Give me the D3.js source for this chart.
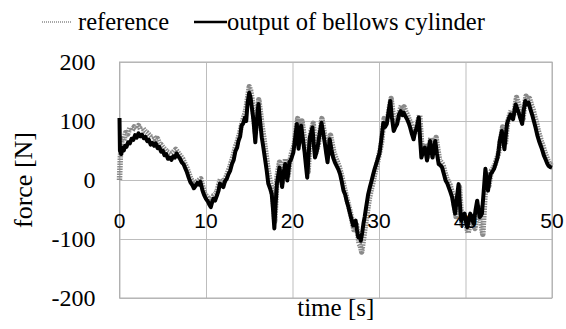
<!DOCTYPE html>
<html>
<head>
<meta charset="utf-8">
<script src="https://cdn.jsdelivr.net/npm/d3@7"></script>
<style>
  body { margin: 0; background: #fff; }
  svg { display: block; }
  .serif { font-family: "Liberation Serif"; }
  .sans { font-family: "Liberation Sans"; }
</style>
</head>
<body>
<svg id="chart" width="566" height="329"></svg>
<script>
// Data: [time s, force N].
const outputSeries = [
  [0,105],[0.05,50],[0.2,44],[0.35,55],[0.5,50],[0.65,58],[0.8,56],[1.0,64],[1.2,62],[1.4,70],
  [1.6,68],[1.8,76],[2.0,72],[2.2,79],[2.4,74],[2.6,77],[2.8,71],[3.0,73],[3.2,66],[3.4,68],
  [3.6,60],[3.8,63],[4.0,58],[4.2,62],[4.4,54],[4.6,56],[4.8,48],[5.0,50],[5.2,42],[5.4,44],
  [5.6,36],[5.8,38],[6.0,34],[6.2,40],[6.4,38],[6.6,45],[6.8,40],[7.0,36],[7.2,30],[7.4,27],
  [7.6,20],[7.8,13],[8.0,4],[8.2,-4],[8.4,-8],[8.6,-14],[8.8,-10],[9.0,-5],[9.2,-8],[9.35,-3],
  [9.6,-18],[9.8,-26],[10.0,-32],[10.2,-36],[10.4,-42],[10.55,-46],[10.7,-38],[10.85,-32],[11.05,-35],[11.25,-27],
  [11.45,-18],[11.6,-6],[11.8,-9],[12.0,-12],[12.2,-2],[12.4,2],[12.6,10],[12.8,16],[13.0,27],[13.2,34],
  [13.4,49],[13.6,55],[13.75,66],[13.95,74],[14.1,92],[14.3,96],[14.5,106],[14.65,100],[14.8,130],[15.0,148],
  [15.15,140],[15.3,123],[15.5,100],[15.7,64],[15.85,95],[16.06,129],[16.25,100],[16.45,72],[16.6,58],[16.8,38],
  [17.0,18],[17.2,-6],[17.4,-14],[17.6,-24],[17.75,-50],[17.9,-82],[18.05,-40],[18.2,-6],[18.35,8],[18.5,21],
  [18.65,5],[18.8,-12],[18.95,10],[19.15,27],[19.3,12],[19.4,-1],[19.55,18],[19.65,30],[19.8,34],[19.9,38],
  [20.1,47],[20.3,70],[20.5,95],[20.6,75],[20.7,53],[20.85,72],[21.0,92],[21.2,70],[21.4,47],[21.55,25],
  [21.7,4],[21.85,40],[22.0,72],[22.15,80],[22.3,89],[22.45,62],[22.6,38],[22.75,46],[22.9,55],[23.1,75],
  [23.35,97],[23.55,80],[23.75,61],[23.9,45],[24.05,30],[24.2,52],[24.3,69],[24.5,52],[24.7,38],[24.9,30],
  [25.1,24],[25.3,18],[25.5,10],[25.7,-3],[25.9,-18],[26.1,-25],[26.25,-35],[26.45,-45],[26.65,-57],[26.85,-68],
  [27.0,-77],[27.15,-72],[27.3,-69],[27.45,-84],[27.6,-97],[27.75,-95],[27.9,-103],[28.05,-90],[28.2,-74],[28.35,-62],
  [28.45,-52],[28.6,-38],[28.75,-24],[28.95,-12],[29.15,-1],[29.3,8],[29.5,19],[29.7,28],[29.9,38],[30.05,45],
  [30.15,55],[30.35,78],[30.5,97],[30.7,90],[30.9,95],[31.1,115],[31.3,134],[31.5,105],[31.7,83],[31.9,90],
  [32.1,95],[32.3,110],[32.5,117],[32.7,110],[32.85,114],[33.05,108],[33.25,103],[33.45,96],[33.6,89],[33.8,78],
  [34.0,69],[34.15,80],[34.3,86],[34.45,95],[34.6,106],[34.75,70],[34.9,38],[35.1,48],[35.3,55],[35.45,42],
  [35.55,33],[35.75,52],[35.9,66],[36.05,50],[36.2,38],[36.35,55],[36.5,66],[36.7,45],[36.9,27],[37.1,25],
  [37.3,21],[37.5,10],[37.7,-1],[37.9,-6],[38.05,-12],[38.25,-20],[38.45,-29],[38.6,-42],[38.8,-57],[39.0,-30],
  [39.2,-7],[39.35,-40],[39.5,-69],[39.7,-62],[39.9,-57],[40.05,-70],[40.2,-80],[40.4,-68],[40.55,-57],[40.75,-66],
  [40.95,-74],[41.15,-52],[41.35,-35],[41.5,-50],[41.65,-63],[41.8,-60],[41.9,-57],[42.1,-20],[42.3,19],[42.45,0],
  [42.6,-18],[42.75,-2],[42.9,10],[43.1,14],[43.3,19],[43.5,28],[43.7,38],[43.85,52],[43.95,66],[44.1,76],
  [44.2,83],[44.35,68],[44.5,52],[44.65,75],[44.8,95],[45.0,104],[45.2,111],[45.35,106],[45.5,103],[45.65,116],
  [45.8,128],[46.0,120],[46.15,114],[46.35,104],[46.55,95],[46.7,115],[46.9,134],[47.1,128],[47.3,131],[47.5,120],
  [47.7,111],[47.9,100],[48.1,89],[48.3,76],[48.5,66],[48.7,58],[48.85,52],[49.05,42],[49.25,35],[49.45,28],
  [49.6,24],[49.8,22],[50,21]
];

const referenceSeries = [
  [0,0],[0.1,40],[0.3,70],[0.5,66],[0.7,80],[0.95,78],[1.2,88],[1.45,84],[1.7,90],[1.95,87],
  [2.2,92],[2.45,86],[2.7,88],[3.0,82],[3.2,80],[3.45,76],[3.7,72],[3.95,74],[4.2,68],[4.4,70],
  [4.6,62],[4.8,60],[5.0,56],[5.25,52],[5.5,48],[5.75,46],[6.0,44],[6.25,48],[6.5,52],[6.7,48],
  [6.9,44],[7.1,40],[7.3,36],[7.55,28],[7.8,20],[8.0,12],[8.2,4],[8.4,-2],[8.6,-8],[8.8,-4],
  [9.0,-2],[9.2,0],[9.4,2],[9.6,-10],[9.8,-22],[10.0,-26],[10.2,-30],[10.35,-36],[10.5,-40],[10.7,-32],
  [10.9,-26],[11.1,-24],[11.3,-18],[11.5,-6],[11.7,2],[11.9,-2],[12.1,-4],[12.35,6],[12.6,16],[12.8,24],
  [13.0,34],[13.2,44],[13.4,56],[13.6,64],[13.8,74],[14.0,86],[14.2,98],[14.4,108],[14.6,118],[14.8,138],
  [15.0,158],[15.15,152],[15.3,140],[15.5,112],[15.7,80],[15.9,110],[16.1,136],[16.3,114],[16.5,90],[16.7,70],
  [16.9,48],[17.1,26],[17.3,6],[17.45,-4],[17.6,-14],[17.8,-40],[17.95,-70],[18.1,-30],[18.2,4],[18.35,18],
  [18.5,30],[18.65,12],[18.8,-4],[19.0,18],[19.2,36],[19.35,22],[19.5,8],[19.7,32],[19.9,46],[20.05,52],
  [20.2,60],[20.4,84],[20.6,104],[20.7,84],[20.8,64],[20.95,82],[21.1,100],[21.3,78],[21.5,56],[21.65,34],
  [21.8,14],[21.95,48],[22.1,80],[22.25,88],[22.4,96],[22.55,70],[22.7,46],[22.85,54],[23.0,62],[23.2,84],
  [23.4,104],[23.6,86],[23.8,70],[23.95,54],[24.1,40],[24.25,60],[24.4,76],[24.6,60],[24.8,46],[25.0,38],
  [25.2,30],[25.4,22],[25.6,12],[25.8,0],[26.0,-14],[26.2,-26],[26.4,-38],[26.6,-50],[26.8,-62],[26.95,-74],
  [27.1,-84],[27.25,-80],[27.4,-76],[27.55,-92],[27.7,-108],[27.85,-112],[28.0,-122],[28.15,-106],[28.3,-90],[28.45,-74],
  [28.6,-60],[28.75,-44],[28.9,-30],[29.1,-16],[29.3,-4],[29.5,10],[29.7,22],[29.85,32],[30.0,42],[30.15,52],
  [30.3,64],[30.45,86],[30.6,104],[30.8,100],[31.0,104],[31.2,122],[31.4,138],[31.6,114],[31.8,94],[32.0,98],
  [32.2,104],[32.4,118],[32.6,126],[32.75,120],[32.9,124],[33.1,116],[33.3,110],[33.5,102],[33.7,96],[33.9,86],
  [34.1,78],[34.25,86],[34.4,92],[34.55,102],[34.7,110],[34.85,78],[35.0,46],[35.2,56],[35.4,62],[35.55,50],
  [35.7,40],[35.85,58],[36.0,72],[36.15,58],[36.3,46],[36.45,62],[36.6,72],[36.8,52],[37.0,34],[37.2,30],
  [37.4,26],[37.6,14],[37.8,4],[38.0,-2],[38.2,-8],[38.4,-18],[38.6,-30],[38.75,-46],[38.9,-62],[39.1,-36],
  [39.3,-12],[39.45,-44],[39.6,-76],[39.8,-70],[40.0,-66],[40.15,-80],[40.3,-90],[40.5,-76],[40.7,-66],[40.9,-74],
  [41.1,-82],[41.3,-62],[41.5,-46],[41.65,-60],[41.8,-72],[41.9,-84],[42.0,-92],[42.2,-40],[42.4,10],[42.55,0],
  [42.7,-10],[42.85,4],[43.0,16],[43.2,20],[43.4,26],[43.6,36],[43.8,44],[43.95,58],[44.1,72],[44.2,80],
  [44.3,90],[44.45,74],[44.6,60],[44.75,82],[44.9,100],[45.1,110],[45.3,118],[45.45,114],[45.6,112],[45.75,126],
  [45.9,140],[46.1,130],[46.25,122],[46.45,112],[46.65,104],[46.8,124],[47.0,142],[47.2,136],[47.4,138],[47.6,128],
  [47.8,120],[48.0,108],[48.2,98],[48.4,84],[48.6,74],[48.8,64],[48.95,58],[49.15,48],[49.35,40],[49.5,34],
  [49.7,28],[49.85,26],[50,24]
];

const xTicks = [0, 10, 20, 30, 40, 50];
const yTicks = [-200, -100, 0, 100, 200];
const legendLabels = ["reference", "output of bellows cylinder"];

const svg = d3.select("#chart");
const margin = { top: 62, right: 14, bottom: 31, left: 119.5 };
const width = 566 - margin.left - margin.right;
const height = 329 - margin.top - margin.bottom;

const x = d3.scaleLinear().domain([0, 50]).range([0, width]);
const y = d3.scaleLinear().domain([-200, 200]).range([height, 0]);

const g = svg.append("g")
  .attr("transform", `translate(${margin.left}, ${margin.top})`);

// Gridlines
g.append("g")
  .attr("class", "grid")
  .attr("transform", `translate(0, ${height})`)
  .call(d3.axisBottom(x).tickValues(xTicks).tickSize(-height).tickFormat(""));
g.append("g")
  .attr("class", "grid")
  .call(d3.axisLeft(y).tickValues(yTicks).tickSize(-width).tickFormat(""));
g.selectAll(".grid line").attr("stroke", "#bdbdbd").attr("stroke-width", 1);
g.selectAll(".grid path").attr("stroke", "none");

// Plot border
g.append("rect")
  .attr("x", 0).attr("y", 0)
  .attr("width", width).attr("height", height)
  .attr("fill", "none")
  .attr("stroke", "#b0b0b0")
  .attr("stroke-width", 1);

const line = d3.line().x(d => x(d[0])).y(d => y(d[1]));

// Reference (grey dotted band)
g.append("path")
  .datum(referenceSeries)
  .attr("fill", "none")
  .attr("stroke", "#8a8a8a")
  .attr("stroke-width", 5.5)
  .attr("stroke-dasharray", "1.5 1")
  .attr("stroke-linejoin", "round")
  .attr("d", line);

// Output of bellows cylinder
g.append("path")
  .datum(outputSeries)
  .attr("fill", "none")
  .attr("stroke", "#000")
  .attr("stroke-width", 4)
  .attr("stroke-linejoin", "round")
  .attr("d", line);

// X tick labels, drawn at the zero line
g.append("g")
  .selectAll("text")
  .data(xTicks)
  .join("text")
  .attr("class", "sans")
  .attr("x", d => x(d))
  .attr("y", y(0) + 48)
  .attr("text-anchor", "middle")
  .attr("font-size", 21)
  .attr("fill", "#000")
  .text(d => d);

// Y tick labels
g.append("g")
  .selectAll("text")
  .data(yTicks)
  .join("text")
  .attr("class", "serif")
  .attr("x", -24)
  .attr("y", d => y(d))
  .attr("dy", "0.35em")
  .attr("text-anchor", "end")
  .attr("font-size", 24)
  .attr("fill", "#000")
  .text(d => d);

// Axis titles
svg.append("text")
  .attr("class", "serif")
  .attr("x", margin.left + width / 2)
  .attr("y", 316)
  .attr("text-anchor", "middle")
  .attr("font-size", 25)
  .text("time [s]");

svg.append("text")
  .attr("class", "serif")
  .attr("transform", `translate(32, ${margin.top + y(0)}) rotate(-90)`)
  .attr("text-anchor", "middle")
  .attr("font-size", 26)
  .text("force [N]");

// Legend
const legend = svg.append("g");
legend.append("line")
  .attr("x1", 42).attr("x2", 72).attr("y1", 22).attr("y2", 22)
  .attr("stroke", "#8a8a8a").attr("stroke-width", 1.5).attr("stroke-dasharray", "1 1");
legend.append("text").attr("class", "serif").attr("x", 78).attr("y", 29.5)
  .attr("font-size", 24.5).text(legendLabels[0]);
legend.append("line")
  .attr("x1", 194).attr("x2", 227).attr("y1", 22).attr("y2", 22)
  .attr("stroke", "#000").attr("stroke-width", 2.5);
legend.append("text").attr("class", "serif").attr("x", 227).attr("y", 29.5)
  .attr("font-size", 24.5).text(legendLabels[1]);
</script>
</body>
</html>
